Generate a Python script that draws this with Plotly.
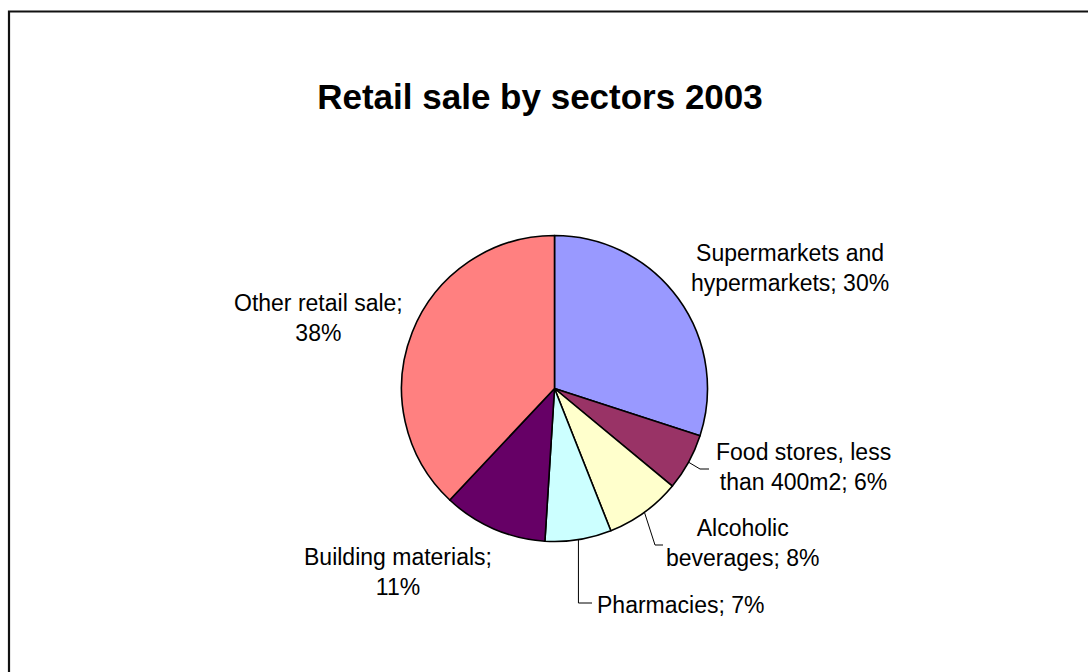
import math
import plotly.graph_objects as go

# Retail sale by sector, share of total (%)
sectors = [
    "Supermarkets and hypermarkets",
    "Food stores, less than 400m2",
    "Alcoholic beverages",
    "Pharmacies",
    "Building materials",
    "Other retail sale",
]
shares = [30, 6, 8, 7, 11, 38]
label_text = [
    "Supermarkets and<br>hypermarkets; 30%",
    "Food stores, less<br>than 400m2; 6%",
    "Alcoholic<br>beverages; 8%",
    "Pharmacies; 7%",
    "Building materials;<br>11%",
    "Other retail sale;<br>38%",
]
colors = ["#9999FF", "#993366", "#FFFFCC", "#CCFFFF", "#660066", "#FF8080"]

W, H = 1088, 672
CX, CY, R = 554.5, 388.5, 153.0  # pie centre and radius in pixels


def px(x):
    return x / W


def py(y):
    return 1 - y / H


fig = go.Figure(
    go.Pie(
        labels=sectors,
        values=shares,
        sort=False,
        direction="clockwise",
        rotation=0,
        marker=dict(colors=colors, line=dict(color="#000000", width=1.6)),
        textinfo="none",
        hoverinfo="label+percent",
        showlegend=False,
        domain=dict(x=[px(CX - R), px(CX + R)], y=[py(CY + R), py(CY - R)]),
    )
)

# label block centres (pixels)
label_pos = [(790, 268), (803.5, 466.5), (742.5, 542.5), (680, 604.5), (398, 572), (318, 317.5)]
annotations = []
for txt, (lx, ly) in zip(label_text, label_pos):
    annotations.append(
        dict(
            text=txt, x=px(lx), y=py(ly), xref="paper", yref="paper",
            xanchor="center", yanchor="middle", align="center", showarrow=False,
            font=dict(family="Liberation Sans, Arial, sans-serif", size=23, color="#000000"),
        )
    )

# leader lines start at the middle of each slice's outer edge
total = sum(shares)
mid_angles = []
acc = 0
for v in shares:
    mid_angles.append((acc + v / 2) / total * 2 * math.pi)
    acc += v


def edge_point(i):
    a = mid_angles[i]
    return CX + R * math.sin(a), CY - R * math.cos(a)


leaders = {
    1: [(700, 469), (709, 469)],
    2: [(655, 545), (663, 545)],
    3: [None, (592, 603)],
}
shapes = []
for i, pts in leaders.items():
    sx, sy = edge_point(i)
    elbow, end = pts
    if elbow is None:
        elbow = (sx, end[1])
    path = "M {} {} L {} {} L {} {}".format(
        px(sx), py(sy), px(elbow[0]), py(elbow[1]), px(end[0]), py(end[1])
    )
    shapes.append(dict(type="path", path=path, xref="paper", yref="paper",
                       line=dict(color="#000000", width=1)))

# chart frame
shapes.append(dict(type="rect", xref="paper", yref="paper",
                   x0=px(9), x1=1.02, y0=-0.02, y1=py(11.5),
                   line=dict(color="#111111", width=2.2), fillcolor="rgba(0,0,0,0)"))

fig.update_layout(
    width=W, height=H, autosize=False,
    margin=dict(l=0, r=0, t=0, b=0),
    paper_bgcolor="#FFFFFF", plot_bgcolor="#FFFFFF",
    title=dict(
        text="<b>Retail sale by sectors 2003</b>",
        x=px(540), y=py(97), xanchor="center", yanchor="middle",
        font=dict(family="Liberation Sans, Arial, sans-serif", size=35, color="#000000"),
    ),
    annotations=annotations,
    shapes=shapes,
)

fig.write_html("out.html")
